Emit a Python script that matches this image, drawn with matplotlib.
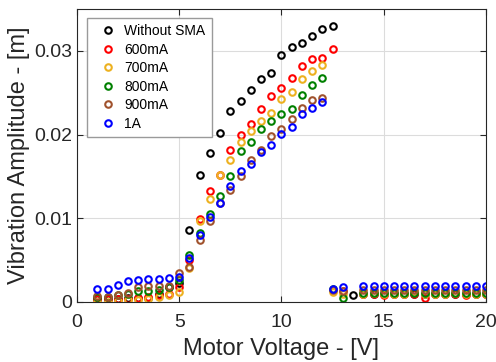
import numpy as np
import matplotlib
matplotlib.use("Agg")
import matplotlib.pyplot as plt

plt.rcParams['font.family'] = ['Liberation Sans', 'DejaVu Sans']

nan = np.nan
# motor voltage [V]
volts = [1.0, 1.5, 2.0, 2.5, 3.0, 3.5, 4.0, 4.5, 5.0, 5.5, 6.0, 6.5, 7.0, 7.5, 8.0,
         8.5, 9.0, 9.5, 10.0, 10.5, 11.0, 11.5, 12.0, 12.5, 13.0, 13.5, 14.0, 14.5,
         15.0, 15.5, 16.0, 16.5, 17.0, 17.5, 18.0, 18.5, 19.0, 19.5, 20.0]

# vibration amplitude [m]
no_sma = [0.0003, 0.0003, 0.0004, 0.0005, 0.0005, 0.0005, 0.0010, 0.0018, 0.0022, 0.0086,
          0.0152, 0.0178, 0.0202, 0.0228, 0.0240, 0.0253, 0.0266, 0.0274, 0.0295, 0.0305,
          0.0309, 0.0318, 0.0326, 0.0330, nan, 0.0008, 0.0009, 0.0009, 0.0009, 0.0009,
          0.0009, 0.0009, 0.0009, 0.0009, 0.0009, 0.0009, 0.0009, 0.0009, 0.0009]
ma600 = [0.0003, 0.0003, 0.0004, 0.0004, 0.00045, 0.0006, 0.0008, 0.0010, 0.0018, 0.0050,
         0.0099, 0.0132, 0.0152, 0.0182, 0.0200, 0.0213, 0.0231, 0.0246, 0.0256, 0.0267,
         0.0282, 0.0290, 0.0292, 0.0302, 0.0013, nan, 0.0009, 0.0009, 0.0008, 0.0009,
         0.0009, 0.0009, 0.0005, 0.0009, 0.0009, 0.0009, 0.0008, 0.0009, 0.0009]
ma700 = [0.0000, 0.0000, 0.0001, 0.0002, 0.0002, 0.0004, 0.0006, 0.0008, 0.0012, 0.0040,
         0.0097, 0.0123, 0.0152, 0.0169, 0.0191, 0.0204, 0.0216, 0.0226, 0.0242, 0.0251,
         0.0266, 0.0276, 0.0283, 0.0012, 0.0010, nan, 0.0010, 0.0011, 0.0010, 0.0010,
         0.0010, 0.0012, 0.0010, 0.0010, 0.0010, 0.0011, 0.0010, 0.0010, 0.0010]
ma800 = [0.0006, 0.0006, 0.0008, 0.0010, 0.0013, 0.0013, 0.0014, 0.0018, 0.0026, 0.0056,
         0.0082, 0.0105, 0.0127, 0.0150, 0.0180, 0.0191, 0.0207, 0.0216, 0.0224, 0.0231,
         0.0247, 0.0259, 0.0268, 0.0016, 0.0005, nan, 0.0011, 0.0011, 0.0011, 0.0011,
         0.0011, 0.0011, 0.0011, 0.0011, 0.0011, 0.0011, 0.0011, 0.0011, 0.0011]
ma900 = [0.0007, 0.0006, 0.0008, 0.0011, 0.0018, 0.0019, 0.0019, 0.0019, 0.0034, 0.0042,
         0.0074, 0.0097, 0.0118, 0.0134, 0.0150, 0.0169, 0.0182, 0.0198, 0.0207, 0.0219,
         0.0232, 0.0241, 0.0244, 0.0014, 0.0013, nan, 0.0014, 0.0014, 0.0014, 0.0014,
         0.0014, 0.0014, 0.0014, 0.0014, 0.0014, 0.0014, 0.0014, 0.0014, 0.0014]
a1 = [0.0015, 0.0016, 0.0020, 0.0025, 0.0026, 0.0027, 0.0027, 0.0028, 0.0030, 0.0052,
      0.0080, 0.0102, 0.0118, 0.0139, 0.0156, 0.0165, 0.0179, 0.0188, 0.0201, 0.0209,
      0.0224, 0.0232, 0.0239, 0.0015, 0.0018, nan, 0.0019, 0.0019, 0.0019, 0.0019,
      0.0019, 0.0019, 0.0019, 0.0019, 0.0019, 0.0019, 0.0019, 0.0019, 0.0019]

series = [no_sma, ma600, ma700, ma800, ma900, a1]
labels = ["Without SMA", "600mA", "700mA", "800mA", "900mA", "1A"]
colors = ["black", "red", "#EDB120", "green", "#A0522D", "blue"]

fig = plt.figure(figsize=(4.96, 3.62), dpi=100)
ax = fig.add_axes([0.155, 0.166, 0.825, 0.809])

for y, lab, c in zip(series, labels, colors):
    ax.plot(volts, y, 'o', mfc='none', mec=c, mew=1.5, ms=4.7, label=lab)

ax.set_xlim(0, 20)
ax.set_ylim(0, 0.035)
ax.set_xticks([0, 5, 10, 15, 20])
ax.set_yticks([0, 0.01, 0.02, 0.03])
ax.set_yticklabels(["0", "0.01", "0.02", "0.03"])
ax.grid(True, color='#dcdcdc', linewidth=0.8)
ax.set_axisbelow(True)
ax.tick_params(direction='in', top=True, right=True, labelsize=14, colors='#262626', length=4)
ax.tick_params(axis='x', pad=9)
for s in ax.spines.values():
    s.set_color('#262626')
    s.set_linewidth(0.8)

ax.set_xlabel("Motor Voltage - [V]", fontsize=17, color='#262626', labelpad=5)
ax.set_ylabel("Vibration Amplitude - [m]", fontsize=17, color='#262626', labelpad=3)

leg = ax.legend(loc='upper left', bbox_to_anchor=(10 / 409, 1 - 9 / 293), borderaxespad=0,
                fontsize=10, labelspacing=0.32, handlelength=2.1, handletextpad=0.15,
                borderpad=0.45, fancybox=False, framealpha=1, edgecolor='#9a9a9a')
leg.get_frame().set_linewidth(1.0)

fig.savefig("out.png", dpi=100)
